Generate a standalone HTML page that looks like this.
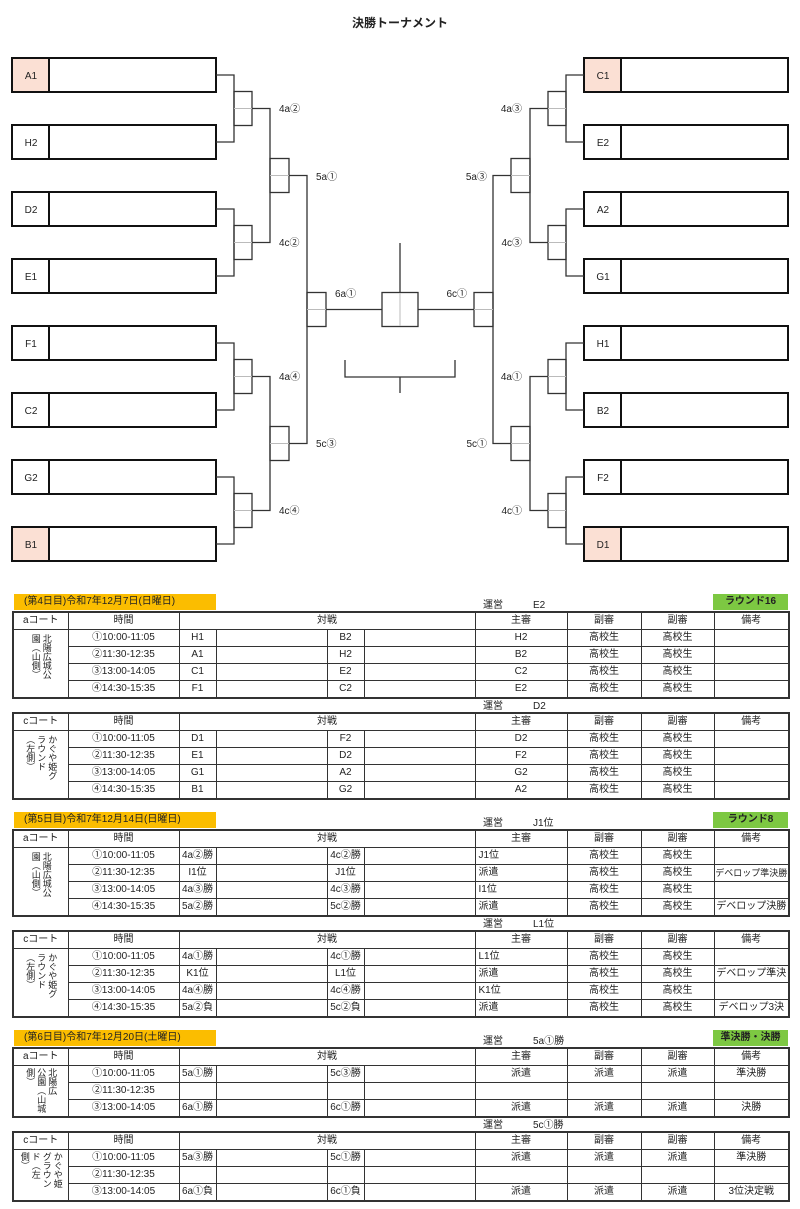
<!DOCTYPE html>
<html><head><meta charset="utf-8"><style>
body{margin:0;background:#fff;width:800px;height:1209px;position:relative;overflow:hidden;font-family:"Liberation Sans","Noto Sans CJK JP",sans-serif;color:#222}
.t{position:absolute;left:12px;width:776px;border-collapse:collapse;table-layout:fixed;border:2px solid #333;font-size:10px}
.t td{border:1px solid #333;height:16px;padding:0;text-align:center;white-space:nowrap;overflow:hidden;line-height:14px}
.t td.l{text-align:left;padding-left:3px}
.v{writing-mode:vertical-rl;font-size:9px;line-height:11px;margin:0 auto;height:60px;text-align:left}
.y{position:absolute;left:14px;width:202px;height:16px;background:#fbbd00;font-size:10px;line-height:16px;padding-left:10px;box-sizing:border-box}
.g{position:absolute;left:713px;width:75px;height:16px;background:#7dc842;font-size:10px;line-height:16px;text-align:center;font-weight:bold}
.u{position:absolute;left:483px;font-size:10px}
.u span{margin-left:30px}
</style></head><body>
<div style="position:absolute;left:0;width:800px;top:14px;text-align:center;font-size:12px;font-weight:bold">決勝トーナメント</div>
<svg width="800" height="590" style="position:absolute;left:0;top:0" font-family="Liberation Sans, Noto Sans CJK JP, sans-serif" font-size="10" fill="#222">
<g fill="none" stroke="#111" stroke-width="2">
<rect x="12" y="58" width="204" height="34"/><rect x="12" y="125" width="204" height="34"/><rect x="12" y="192" width="204" height="34"/><rect x="12" y="259" width="204" height="34"/><rect x="12" y="326" width="204" height="34"/><rect x="12" y="393" width="204" height="34"/><rect x="12" y="460" width="204" height="34"/><rect x="12" y="527" width="204" height="34"/>
<rect x="584" y="58" width="204" height="34"/><rect x="584" y="125" width="204" height="34"/><rect x="584" y="192" width="204" height="34"/><rect x="584" y="259" width="204" height="34"/><rect x="584" y="326" width="204" height="34"/><rect x="584" y="393" width="204" height="34"/><rect x="584" y="460" width="204" height="34"/><rect x="584" y="527" width="204" height="34"/>
</g>
<rect x="13" y="59" width="35" height="32" fill="#fbe0d4"/><rect x="13" y="528" width="35" height="32" fill="#fbe0d4"/>
<rect x="585" y="59" width="35" height="32" fill="#fbe0d4"/><rect x="585" y="528" width="35" height="32" fill="#fbe0d4"/>
<g stroke="#111" stroke-width="2">
<path d="M49 58V92M49 125V159M49 192V226M49 259V293M49 326V360M49 393V427M49 460V494M49 527V561"/>
<path d="M621 58V92M621 125V159M621 192V226M621 259V293M621 326V360M621 393V427M621 460V494M621 527V561"/>
</g>
<g fill="none" stroke="#333" stroke-width="1.3">
<path d="M216 75H234V142H216M216 209H234V276H216M216 343H234V410H216M216 477H234V544H216"/>
<path d="M584 75H566V142H584M584 209H566V276H584M584 343H566V410H584M584 477H566V544H584"/>
<rect x="234" y="91.5" width="18" height="34"/><rect x="234" y="225.5" width="18" height="34"/><rect x="234" y="359.5" width="18" height="34"/><rect x="234" y="493.5" width="18" height="34"/>
<rect x="548" y="91.5" width="18" height="34"/><rect x="548" y="225.5" width="18" height="34"/><rect x="548" y="359.5" width="18" height="34"/><rect x="548" y="493.5" width="18" height="34"/>
<path d="M252 108.5H270V242.5H252M252 376.5H270V510.5H252"/>
<path d="M548 108.5H530V242.5H548M548 376.5H530V510.5H548"/>
<rect x="270" y="158.5" width="19" height="34"/><rect x="270" y="426.5" width="19" height="34"/>
<rect x="511" y="158.5" width="19" height="34"/><rect x="511" y="426.5" width="19" height="34"/>
<path d="M289 175.5H307V443.5H289M511 175.5H493V443.5H511"/>
<rect x="307" y="292.5" width="19" height="34"/><rect x="474" y="292.5" width="19" height="34"/>
<path d="M326 309.5H382M418 309.5H474M400 243V292.5"/>
<rect x="382" y="292.5" width="36" height="34"/>
<path d="M345 360V377H455V360M400 377V393"/>
</g>
<g stroke="#bbb" stroke-width="1">
<path d="M234 108.5H252M234 242.5H252M234 376.5H252M234 510.5H252M548 108.5H566M548 242.5H566M548 376.5H566M548 510.5H566"/>
<path d="M270 175.5H289M270 443.5H289M511 175.5H530M511 443.5H530M307 309.5H326M474 309.5H493M400 293V326"/>
</g>
<g text-anchor="middle">
<text x="31" y="79">A1</text><text x="31" y="146">H2</text><text x="31" y="213">D2</text><text x="31" y="280">E1</text><text x="31" y="347">F1</text><text x="31" y="414">C2</text><text x="31" y="481">G2</text><text x="31" y="548">B1</text>
<text x="603" y="79">C1</text><text x="603" y="146">E2</text><text x="603" y="213">A2</text><text x="603" y="280">G1</text><text x="603" y="347">H1</text><text x="603" y="414">B2</text><text x="603" y="481">F2</text><text x="603" y="548">D1</text>
</g>
<text x="279" y="112">4a②</text><text x="279" y="246">4c②</text><text x="279" y="380">4a④</text><text x="279" y="514">4c④</text>
<text x="316" y="180">5a①</text><text x="316" y="447">5c③</text><text x="335" y="297">6a①</text>
<g text-anchor="end">
<text x="522" y="112">4a③</text><text x="522" y="246">4c③</text><text x="522" y="380">4a①</text><text x="522" y="514">4c①</text>
<text x="487" y="180">5a③</text><text x="487" y="447">5c①</text><text x="467" y="297">6c①</text>
</g>
</svg>

<div class="y" style="top:594px">(第4日目)令和7年12月7日(日曜日)</div>
<div class="g" style="top:594px">ラウンド16</div>
<div class="u" style="top:596px">運営<span>E2</span></div>
<table class="t" style="top:611px"><colgroup><col style="width:55px"><col style="width:111px"><col style="width:37px"><col style="width:111px"><col style="width:37px"><col style="width:111px"><col style="width:92px"><col style="width:74px"><col style="width:73px"><col style="width:75px"></colgroup>
<tr><td>aコート</td><td>時間</td><td colspan="4">対戦</td><td>主審</td><td>副審</td><td>副審</td><td>備考</td></tr>
<tr><td rowspan="4"><div class="v">北陽広城公<br>園（山側）</div></td><td>①10:00-11:05</td><td>H1</td><td></td><td>B2</td><td></td><td>H2</td><td>高校生</td><td>高校生</td><td></td></tr>
<tr><td>②11:30-12:35</td><td>A1</td><td></td><td>H2</td><td></td><td>B2</td><td>高校生</td><td>高校生</td><td></td></tr>
<tr><td>③13:00-14:05</td><td>C1</td><td></td><td>E2</td><td></td><td>C2</td><td>高校生</td><td>高校生</td><td></td></tr>
<tr><td>④14:30-15:35</td><td>F1</td><td></td><td>C2</td><td></td><td>E2</td><td>高校生</td><td>高校生</td><td></td></tr>
</table>
<div class="u" style="top:697px">運営<span>D2</span></div>
<table class="t" style="top:712px"><colgroup><col style="width:55px"><col style="width:111px"><col style="width:37px"><col style="width:111px"><col style="width:37px"><col style="width:111px"><col style="width:92px"><col style="width:74px"><col style="width:73px"><col style="width:75px"></colgroup>
<tr><td>cコート</td><td>時間</td><td colspan="4">対戦</td><td>主審</td><td>副審</td><td>副審</td><td>備考</td></tr>
<tr><td rowspan="4"><div class="v">かぐや姫グ<br>ラウンド<br>（左側）</div></td><td>①10:00-11:05</td><td>D1</td><td></td><td>F2</td><td></td><td>D2</td><td>高校生</td><td>高校生</td><td></td></tr>
<tr><td>②11:30-12:35</td><td>E1</td><td></td><td>D2</td><td></td><td>F2</td><td>高校生</td><td>高校生</td><td></td></tr>
<tr><td>③13:00-14:05</td><td>G1</td><td></td><td>A2</td><td></td><td>G2</td><td>高校生</td><td>高校生</td><td></td></tr>
<tr><td>④14:30-15:35</td><td>B1</td><td></td><td>G2</td><td></td><td>A2</td><td>高校生</td><td>高校生</td><td></td></tr>
</table>

<div class="y" style="top:812px">(第5日目)令和7年12月14日(日曜日)</div>
<div class="g" style="top:812px">ラウンド8</div>
<div class="u" style="top:814px">運営<span>J1位</span></div>
<table class="t" style="top:829px"><colgroup><col style="width:55px"><col style="width:111px"><col style="width:37px"><col style="width:111px"><col style="width:37px"><col style="width:111px"><col style="width:92px"><col style="width:74px"><col style="width:73px"><col style="width:75px"></colgroup>
<tr><td>aコート</td><td>時間</td><td colspan="4">対戦</td><td>主審</td><td>副審</td><td>副審</td><td>備考</td></tr>
<tr><td rowspan="4"><div class="v">北陽広城公<br>園（山側）</div></td><td>①10:00-11:05</td><td>4a②勝</td><td></td><td>4c②勝</td><td></td><td class="l">J1位</td><td>高校生</td><td>高校生</td><td></td></tr>
<tr><td>②11:30-12:35</td><td>I1位</td><td></td><td>J1位</td><td></td><td class="l">派遣</td><td>高校生</td><td>高校生</td><td style="font-size:9px">デベロップ準決勝</td></tr>
<tr><td>③13:00-14:05</td><td>4a③勝</td><td></td><td>4c③勝</td><td></td><td class="l">I1位</td><td>高校生</td><td>高校生</td><td></td></tr>
<tr><td>④14:30-15:35</td><td>5a②勝</td><td></td><td>5c②勝</td><td></td><td class="l">派遣</td><td>高校生</td><td>高校生</td><td>デベロップ決勝</td></tr>
</table>
<div class="u" style="top:915px">運営<span>L1位</span></div>
<table class="t" style="top:930px"><colgroup><col style="width:55px"><col style="width:111px"><col style="width:37px"><col style="width:111px"><col style="width:37px"><col style="width:111px"><col style="width:92px"><col style="width:74px"><col style="width:73px"><col style="width:75px"></colgroup>
<tr><td>cコート</td><td>時間</td><td colspan="4">対戦</td><td>主審</td><td>副審</td><td>副審</td><td>備考</td></tr>
<tr><td rowspan="4"><div class="v">かぐや姫グ<br>ラウンド<br>（左側）</div></td><td>①10:00-11:05</td><td>4a①勝</td><td></td><td>4c①勝</td><td></td><td class="l">L1位</td><td>高校生</td><td>高校生</td><td></td></tr>
<tr><td>②11:30-12:35</td><td>K1位</td><td></td><td>L1位</td><td></td><td class="l">派遣</td><td>高校生</td><td>高校生</td><td>デベロップ準決</td></tr>
<tr><td>③13:00-14:05</td><td>4a④勝</td><td></td><td>4c④勝</td><td></td><td class="l">K1位</td><td>高校生</td><td>高校生</td><td></td></tr>
<tr><td>④14:30-15:35</td><td>5a②負</td><td></td><td>5c②負</td><td></td><td class="l">派遣</td><td>高校生</td><td>高校生</td><td>デベロップ3決</td></tr>
</table>

<div class="y" style="top:1030px">(第6日目)令和7年12月20日(土曜日)</div>
<div class="g" style="top:1030px">準決勝・決勝</div>
<div class="u" style="top:1032px">運営<span>5a①勝</span></div>
<table class="t" style="top:1047px"><colgroup><col style="width:55px"><col style="width:111px"><col style="width:37px"><col style="width:111px"><col style="width:37px"><col style="width:111px"><col style="width:92px"><col style="width:74px"><col style="width:73px"><col style="width:75px"></colgroup>
<tr><td>aコート</td><td>時間</td><td colspan="4">対戦</td><td>主審</td><td>副審</td><td>副審</td><td>備考</td></tr>
<tr><td rowspan="3"><div class="v" style="height:46px">北陽広<br>公園（山城<br>側）</div></td><td>①10:00-11:05</td><td>5a①勝</td><td></td><td>5c③勝</td><td></td><td>派遣</td><td>派遣</td><td>派遣</td><td>準決勝</td></tr>
<tr><td>②11:30-12:35</td><td></td><td></td><td></td><td></td><td></td><td></td><td></td><td></td></tr>
<tr><td>③13:00-14:05</td><td>6a①勝</td><td></td><td>6c①勝</td><td></td><td>派遣</td><td>派遣</td><td>派遣</td><td>決勝</td></tr>
</table>
<div class="u" style="top:1116px">運営<span>5c①勝</span></div>
<table class="t" style="top:1131px"><colgroup><col style="width:55px"><col style="width:111px"><col style="width:37px"><col style="width:111px"><col style="width:37px"><col style="width:111px"><col style="width:92px"><col style="width:74px"><col style="width:73px"><col style="width:75px"></colgroup>
<tr><td>cコート</td><td>時間</td><td colspan="4">対戦</td><td>主審</td><td>副審</td><td>副審</td><td>備考</td></tr>
<tr><td rowspan="3"><div class="v" style="height:46px">かぐや姫<br>グラウン<br>ド（左<br>側）</div></td><td>①10:00-11:05</td><td>5a③勝</td><td></td><td>5c①勝</td><td></td><td>派遣</td><td>派遣</td><td>派遣</td><td>準決勝</td></tr>
<tr><td>②11:30-12:35</td><td></td><td></td><td></td><td></td><td></td><td></td><td></td><td></td></tr>
<tr><td>③13:00-14:05</td><td>6a①負</td><td></td><td>6c①負</td><td></td><td>派遣</td><td>派遣</td><td>派遣</td><td>3位決定戦</td></tr>
</table>
</body></html>
